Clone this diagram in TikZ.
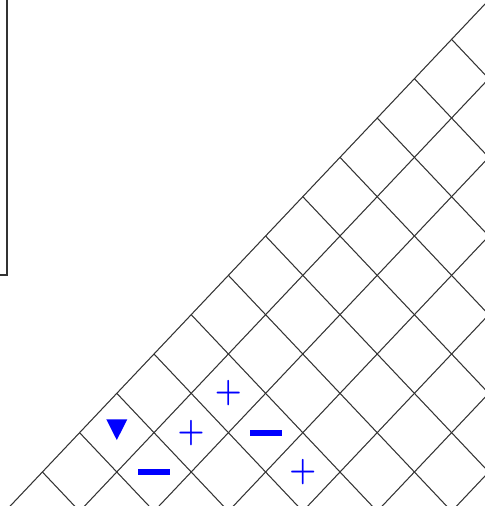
\documentclass[tikz,border=0pt]{standalone}

\begin{document}
\begin{tikzpicture}[
    gridline/.style={line width=0.6pt, black!80},
    frame/.style={line width=1.1pt, black!80},
    plusmark/.style={text=blue, inner sep=0pt, yscale=1.1,
                     font=\bfseries\fontsize{17.5}{17.5}\selectfont},
    minusmark/.style={fill=blue, inner sep=0pt,
                      minimum width=0.64cm, minimum height=0.12cm},
    trimark/.style={fill=blue},
]

    \useasboundingbox (0,0) rectangle (9.7,10.12);
    \clip (0,0) rectangle (9.7,10.12);
    \draw[frame] (-0.5,4.626) rectangle (0.146,10.6);
    \begin{scope}[shift={(3.08,3.04)},
                  x={(0.744cm,0.7866cm)}, y={(0.744cm,-0.7866cm)}]
        \foreach \k in {-4,...,9} \draw[gridline] (\k,0) -- (\k,8);
        \foreach \j in {0,...,7} \draw[gridline] (-5,\j) -- (10,\j);
        \coordinate (tri) at (-1.5,0.5);
        \node[minusmark] (minusA) at (-1.5,1.5) {};
        \node[plusmark] (plusA) at (-0.5,1.5) {+};
        \node[plusmark] (plusB) at (0.5,1.5) {+};
        \node[minusmark] (minusB) at (0.5,2.5) {};
        \node[plusmark] (plusC) at (0.5,3.5) {+};
    \end{scope}
    \fill[trimark] (tri) ++(-0.21,0.266) -- ++(0.42,0) -- ++(-0.21,-0.414) -- cycle;

\end{tikzpicture}
\end{document}
